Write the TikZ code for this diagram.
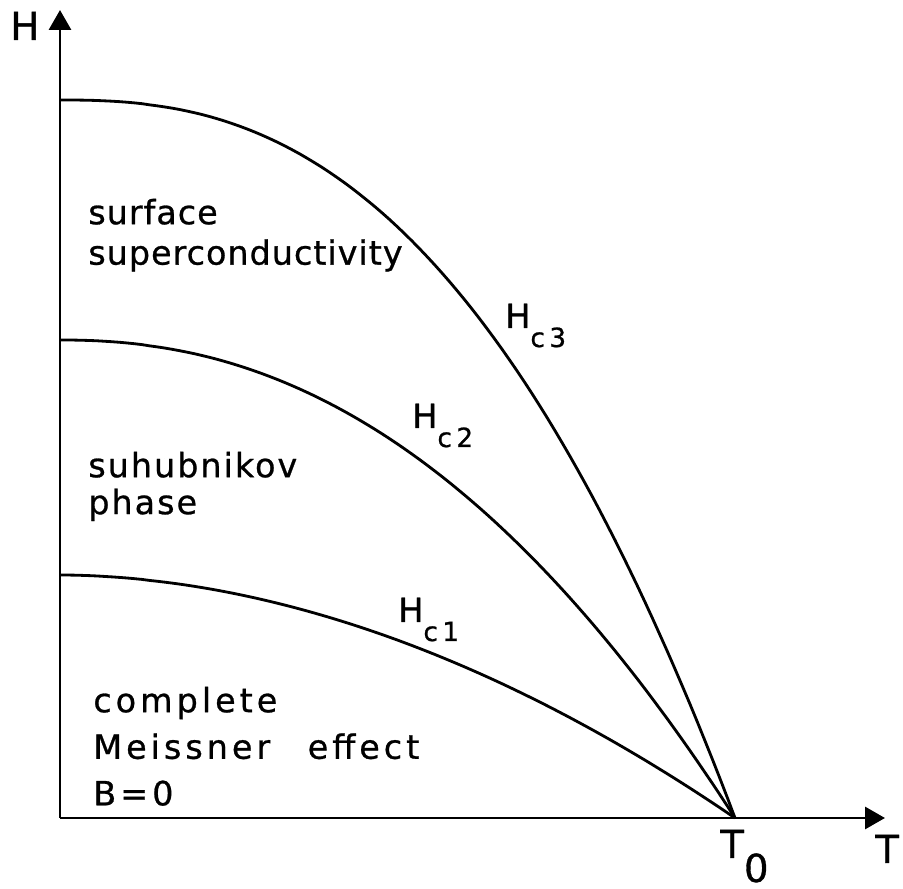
\documentclass[tikz,border=0pt]{standalone}
\usepackage{fontspec}
\setmainfont{DejaVu Sans}[LetterSpace=3,FakeBold=0.8]
\usetikzlibrary{arrows.meta}

\newcommand{\hcrit}[1]{H\raisebox{-0.38cm}{\fontsize{15}{15}\selectfont c\,#1}}

\begin{document}
\begin{tikzpicture}[
  >={Triangle[length=4mm,width=4.4mm]},
  every node/.style={inner sep=0pt,font=\fontsize{19}{23}\selectfont},
  axis/.style={->,line width=1.7pt},
  field/.style={line width=1.6pt},
  region/.style={anchor=north west,align=left},
  axislabel/.style={anchor=base west,font=\fontsize{22}{26}\selectfont}
]
  \useasboundingbox (-1.2,-1.42) rectangle (16.86,16.36);
  \coordinate (O) at (0,0);
  \coordinate (T0) at (13.5,0);
  \coordinate (Tend) at (16.5,0);
  \coordinate (Htop) at (0,16.16);
  \coordinate (hc1) at (0,4.86);
  \coordinate (hc2) at (0,9.56);
  \coordinate (hc3) at (0,14.36);

  % axes
  \draw[axis] (O) -- (Tend);
  \draw[axis] (O) -- (Htop);
  \node[axislabel] (Hlab) at (-1.0,15.56) {H};
  \node[axislabel] (Tlab) at (16.3,-0.9) {T};
  \node[axislabel] (T0lab) at (13.2,-0.8) {T\raisebox{-0.48cm}{0}};

  % critical fields
  \draw[field] (hc3) -- plot[domain=0.01:1,samples=90] ({13.5*\x},{14.36*(1-\x^2.5)});
  \draw[field] (hc2) -- plot[domain=0.01:1,samples=90] ({13.5*\x},{9.56*(1-\x^2.2)});
  \draw[field] (hc1) -- plot[domain=0.01:1,samples=90] ({13.5*\x},{4.86*(1-\x^1.9)});
  \node[anchor=base west] (Hc3lab) at (8.9,9.8) {\hcrit{3}};
  \node[anchor=base west] (Hc2lab) at (7.04,7.8) {\hcrit{2}};
  \node[anchor=base west] (Hc1lab) at (6.76,3.92) {\hcrit{1}};

  % regions
  \node[region,font=\fontsize{19}{23}\selectfont] (surf) at (0.56,12.39) {surface\\superconductivity};
  \node[region,font=\fontsize{19}{21}\selectfont\addfontfeature{LetterSpace=6}] (shub) at (0.56,7.33) {suhubnikov\\phase};
  \node[region,font=\fontsize{19}{26.5}\selectfont\addfontfeature{LetterSpace=12}] (meis) at (0.66,2.63) {complete\\Meissner\hspace{0.75cm}effect\\B=0};
\end{tikzpicture}
\end{document}
